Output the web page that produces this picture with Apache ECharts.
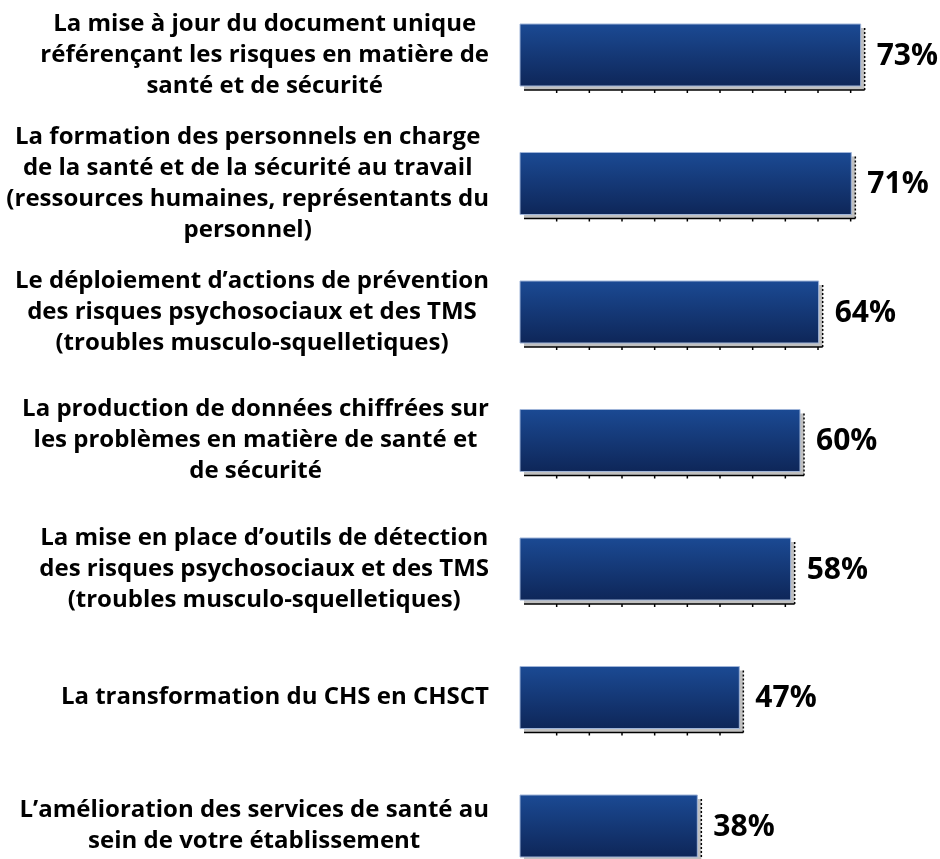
<!DOCTYPE html>
<html>
<head>
<meta charset="utf-8">
<script src="https://cdn.jsdelivr.net/npm/echarts@6/dist/echarts.min.js"></script>
<style>
  html, body { margin: 0; padding: 0; background: #fff; }
  #main { width: 940px; height: 859px; }
</style>
</head>
<body>
<div id="main"></div>
<script>
// categories (top to bottom)
const categories = [
  'La mise à jour du document unique\nréférençant les risques en matière de\nsanté et de sécurité',
  'La formation des personnels en charge\nde la santé et de la sécurité au travail\n(ressources humaines, représentants du\npersonnel)',
  'Le déploiement d’actions de prévention\ndes risques psychosociaux et des TMS\n(troubles musculo-squelletiques)',
  'La production de données chiffrées sur\nles problèmes en matière de santé et\nde sécurité',
  'La mise en place d’outils de détection\ndes risques psychosociaux et des TMS\n(troubles musculo-squelletiques)',
  'La transformation du CHS en CHSCT',
  'L’amélioration des services de santé au\nsein de votre établissement'
]
// values in %
const values = [73, 71, 64, 60, 58, 47, 38]
const tickStep = 7

const FONT = '"Open Sans", "Noto Sans", sans-serif'
const myChart = echarts.init(document.getElementById('main'))

// bar with grey offset shadow, small ticks and dashed edge
function renderBar (params, api) {
  const idx = api.value(1)
  const v = api.value(0)
  const p0 = api.coord([0, idx])
  const p1 = api.coord([v, idx])
  const h = 62
  const top = p0[1] - h / 2
  const w = p1[0] - p0[0]
  const sx = 4, sy = 4
  const bottom = top + h + sy
  const children = [
    { type: 'rect', shape: { x: p0[0] + sx, y: top + sy, width: w, height: h }, style: { fill: '#c0c0c0' } },
    { type: 'line', shape: { x1: p0[0] + sx, y1: bottom, x2: p1[0] + sx, y2: bottom }, style: { stroke: '#000', lineWidth: 1.5 } },
    { type: 'line', shape: { x1: p1[0] + sx, y1: top + sy, x2: p1[0] + sx, y2: bottom }, style: { stroke: '#000', lineWidth: 1.5, lineDash: [2, 2] } }
  ]
  for (let t = tickStep; t < v; t += tickStep) {
    const x = api.coord([t, idx])[0] + sx
    children.push({ type: 'line', shape: { x1: x, y1: bottom, x2: x, y2: bottom + 3 }, style: { stroke: '#000', lineWidth: 1.5 } })
  }
  children.push({
    type: 'rect',
    shape: { x: p0[0], y: top, width: w, height: h },
    style: {
      fill: new echarts.graphic.LinearGradient(0, 0, 0, 1, [
        { offset: 0, color: '#1b4a94' },
        { offset: 1, color: '#0e2658' }
      ]),
      stroke: '#9fb4d8',
      lineWidth: 1
    }
  })
  children.push({
    type: 'text',
    style: {
      x: p1[0] + 16, y: p0[1] + 1,
      text: v + '%',
      fill: '#000',
      font: 'bold 30px ' + FONT,
      align: 'left',
      verticalAlign: 'middle'
    }
  })
  return { type: 'group', children }
}

const option = {
  animation: false,
  grid: { left: 520, right: 0, top: 55, bottom: 33, outerBoundsMode: 'none' },
  // 420px wide grid for 0-90 -> ~4.67px per %
  xAxis: { type: 'value', min: 0, max: 90, show: false },
  yAxis: {
    type: 'category',
    inverse: true,
    boundaryGap: false,
    data: categories,
    axisLine: { show: false },
    axisTick: { show: false },
    splitLine: { show: false },
    axisLabel: {
      interval: 0,
      margin: 31,
      formatter: (val) => val.split('\n').map(l => '{c|' + l + '}').join('\n'),
      rich: {
        c: { align: 'center', fontSize: 24, fontWeight: 'bold', fontFamily: FONT, color: '#000', lineHeight: 31 }
      }
    }
  },
  series: [{
    type: 'custom',
    renderItem: renderBar,
    encode: { x: 0, y: 1 },
    data: values.map((v, i) => [v, i])
  }]
}
myChart.setOption(option)
</script>
</body>
</html>
